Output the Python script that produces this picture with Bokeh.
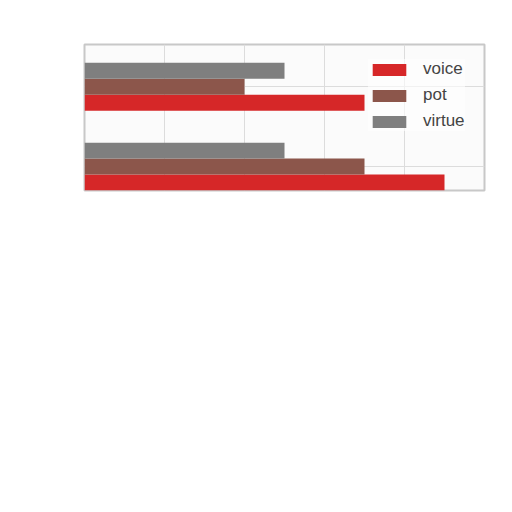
from bokeh.plotting import figure
from bokeh.models import ColumnDataSource, Range1d, FixedTicker
from bokeh.transform import dodge
from bokeh.embed import file_html
from bokeh.resources import INLINE

# Data (top group first)
groups = ["Group 1", "Group 2"]
voice = [3.5, 4.5]
pot = [2.0, 3.5]
virtue = [2.5, 2.5]
series = ["voice", "pot", "virtue"]
colors = ["#d62728", "#8c564b", "#7f7f7f"]

pos = [len(groups) - 1 - i for i in range(len(groups))]
source = ColumnDataSource(dict(group=groups, pos=pos, voice=voice, pot=pot, virtue=virtue))

p = figure(width=504, height=210, output_backend="svg", toolbar_location=None,
           x_range=Range1d(0, 5), y_range=Range1d(-0.3, 1.53),
           min_border_left=84, min_border_right=20, min_border_top=44, min_border_bottom=20)

offsets = {"voice": -0.2, "pot": 0.0, "virtue": 0.2}
for name, col in zip(series, colors):
    p.hbar(y=dodge("pos", offsets[name]), left=0, right=name, height=0.2,
           fill_color=col, line_color=None, source=source, legend_label=name)

p.xaxis.visible = False
p.yaxis.visible = False
p.xaxis.ticker = FixedTicker(ticks=[1, 2, 3, 4])
p.yaxis.ticker = FixedTicker(ticks=pos)
p.xgrid.ticker = FixedTicker(ticks=[1, 2, 3, 4])
p.ygrid.ticker = FixedTicker(ticks=pos)
p.grid.grid_line_color = "#dcdcdc"
p.grid.grid_line_width = 1

p.background_fill_color = "#fbfbfb"
p.border_fill_color = "white"
p.outline_line_color = "#c8c8c8"
p.outline_line_width = 2

lg = p.legend[0]
lg.location = (284, 59)
lg.margin = 0
lg.padding = 10
lg.glyph_width = 42
lg.glyph_height = 15
lg.label_height = 20
lg.spacing = 6
lg.label_standoff = 13
lg.label_text_font = "Liberation Sans"
lg.label_text_font_size = "17px"
lg.label_text_color = "#444444"
lg.border_line_color = None
lg.background_fill_color = "white"
lg.background_fill_alpha = 0.6

open("out.html", "w").write(file_html(p, INLINE))
